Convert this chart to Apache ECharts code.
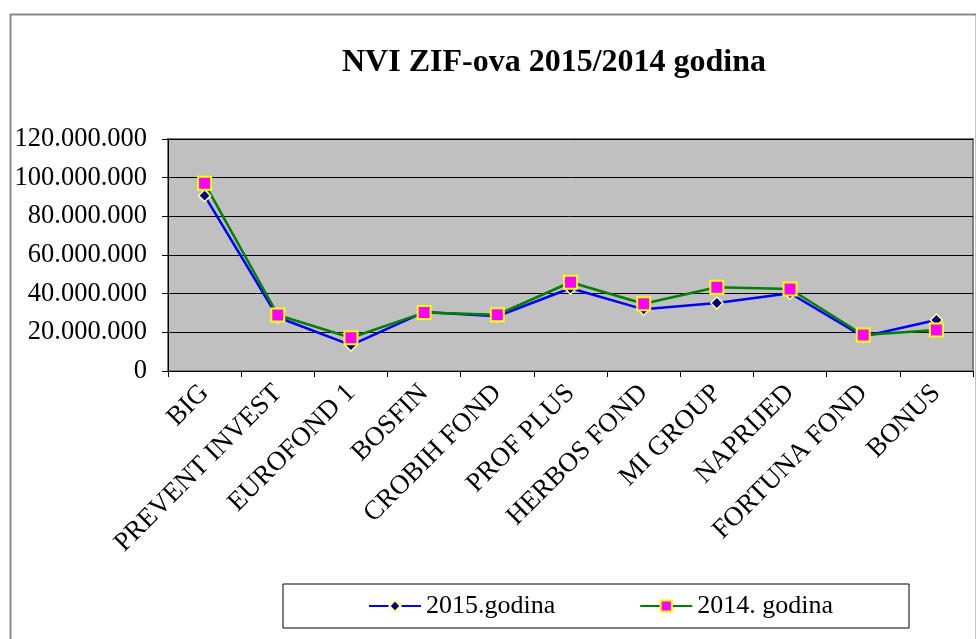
<!DOCTYPE html>
<html>
<head>
<meta charset="utf-8">
<script src="https://cdn.jsdelivr.net/npm/echarts@6/dist/echarts.min.js"></script>
<style>html,body{margin:0;padding:0;background:#fff;}#c{width:976px;height:639px;}</style>
</head>
<body>
<div id="c"></div>
<script>
const categories = ['BIG','PREVENT INVEST','EUROFOND 1','BOSFIN','CROBIH FOND','PROF PLUS','HERBOS FOND','MI GROUP','NAPRIJED','FORTUNA FOND','BONUS'];
const values2015 = [90700000, 27800000, 13400000, 30500000, 28300000, 42800000, 31900000, 35200000, 40200000, 17800000, 26400000];
const values2014 = [97100000, 29000000, 17200000, 30200000, 29100000, 45900000, 34800000, 43300000, 42400000, 18600000, 21200000];
const seriesNames = ['2015.godina', '2014. godina'];
const titleText = 'NVI ZIF-ova 2015/2014 godina';

const FONT = '"Liberation Serif", "Times New Roman", serif';
function fmt(v){ return String(v).replace(/\B(?=(\d{3})+(?!\d))/g, '.'); }

const chart = echarts.init(document.getElementById('c'));
chart.setOption({
  animation: false,
  backgroundColor: '#fff',
  graphic: [{
    type: 'rect', left: 8, top: 12, z: -10,
    shape: { x: 0, y: 0, width: 966, height: 640 },
    style: { fill: 'none', stroke: '#8a8a8a', lineWidth: 2 }
  }],
  title: {
    text: titleText, left: 337, top: 42,
    textStyle: { fontFamily: FONT, fontSize: 32, fontWeight: 'bold', color: '#000' }
  },
  legend: {
    left: 283, top: 584,
    padding: [9, 76, 9, 85],
    borderColor: '#000', borderWidth: 1,
    itemWidth: 52, itemHeight: 14, itemGap: 84,
    textStyle: { fontFamily: FONT, fontSize: 26, color: '#000', padding: [0,0,0,0] },
    data: seriesNames
  },
  grid: {
    left: 168, right: 3, top: 139, bottom: 268,
    show: true, backgroundColor: '#c0c0c0', borderColor: '#808080', borderWidth: 2
  },
  xAxis: {
    type: 'category', data: categories, boundaryGap: true,
    axisLine: { lineStyle: { color: '#000', width: 1 } },
    axisTick: { show: true, alignWithLabel: false, length: 6, lineStyle: { color: '#000' } },
    axisLabel: { rotate: 45, interval: 0, margin: 18, fontFamily: FONT, fontSize: 27, color: '#000' },
    splitLine: { show: false }
  },
  yAxis: {
    type: 'value', min: 0, max: 120000000, interval: 20000000,
    axisLine: { show: true, lineStyle: { color: '#000', width: 1 } },
    axisTick: { show: true, length: 6, lineStyle: { color: '#000' } },
    axisLabel: { margin: 21, fontFamily: FONT, fontSize: 26.5, color: '#000', formatter: fmt },
    splitLine: { show: true, lineStyle: { color: '#000', width: 1 } }
  },
  series: [
    {
      name: seriesNames[0], type: 'line', data: values2015,
      symbol: 'diamond', symbolSize: 12,
      lineStyle: { color: '#0000ff', width: 2.5 },
      itemStyle: { color: '#000080', borderColor: '#ffff99', borderWidth: 1.5 }
    },
    {
      name: seriesNames[1], type: 'line', data: values2014,
      symbol: 'rect', symbolSize: 13,
      lineStyle: { color: '#008000', width: 2.5 },
      itemStyle: { color: '#ff00ff', borderColor: '#ffff00', borderWidth: 2 }
    }
  ]
});
</script>
</body>
</html>
